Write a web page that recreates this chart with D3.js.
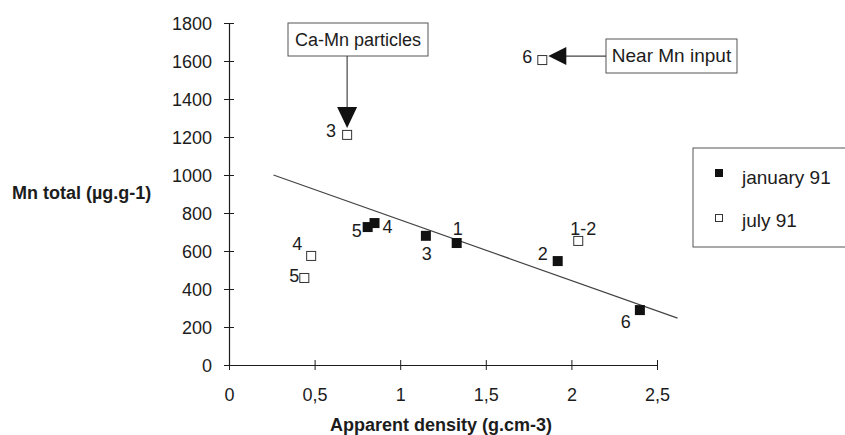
<!DOCTYPE html>
<html>
<head>
<meta charset="utf-8">
<script src="https://cdn.jsdelivr.net/npm/d3@7"></script>
<style>
  body { margin: 0; background: #fff; }
  svg { font-family: "Liberation Sans", Arial, sans-serif; }
</style>
</head>
<body>
<svg id="chart" width="845" height="435"></svg>
<script>
(function () {
  "use strict";

  // ---- data ----
  const xTicks = [0, 0.5, 1, 1.5, 2, 2.5];
  const yTicks = [0, 200, 400, 600, 800, 1000, 1200, 1400, 1600, 1800];

  const janLabels = ["5", "4", "3", "1", "2", "6"];
  const janDensity = [0.81, 0.85, 1.15, 1.33, 1.92, 2.40];
  const janMn = [726, 747, 680, 642, 547, 289];

  const julLabels = ["3", "4", "5", "1-2", "6"];
  const julDensity = [0.69, 0.48, 0.44, 2.04, 1.83];
  const julMn = [1211, 574, 458, 653, 1605];

  const trendX = [0.26, 2.62];
  const trendY = [1000, 247];

  // label offsets (px) for each point: [dx, dy, anchor]
  const janLabelPos = [[-6, 10, "end"], [8, 10, "start"], [1, 24, "middle"], [1, -8, "middle"], [-10, -1, "end"], [-9, 18, "end"]];
  const julLabelPos = [[-11, 2, "end"], [-9, -6, "end"], [-5, 4, "end"], [5, -6, "middle"], [-10, 3, "end"]];

  const FS = 18;
  const ink = "#1c1c1c";

  const svg = d3.select("#chart");
  const x = d3.scaleLinear().domain([0, 2.5]).range([229, 657]);
  const y = d3.scaleLinear().domain([0, 1800]).range([365, 23]);

  // axes
  const yAxis = svg.append("g").attr("transform", `translate(${x(0)},0)`)
    .call(d3.axisLeft(y).tickValues(yTicks).tickSize(0).tickPadding(17).tickFormat(d3.format("d")));
  yAxis.select(".domain").attr("stroke", ink).attr("stroke-width", 1.2);
  yAxis.selectAll(".tick text").attr("font-size", FS).attr("fill", ink).attr("dy", "0.36em");
  yAxis.selectAll(".tick").append("line").attr("x1", -5).attr("x2", 5).attr("stroke", ink);

  const xAxis = svg.append("g").attr("transform", `translate(0,${y(0)})`)
    .call(d3.axisBottom(x).tickValues(xTicks).tickSize(0).tickPadding(23)
      .tickFormat((d) => String(d).replace(".", ",")));
  xAxis.select(".domain").attr("stroke", ink).attr("stroke-width", 1.2);
  xAxis.selectAll(".tick text").attr("font-size", FS).attr("fill", ink);
  xAxis.selectAll(".tick").append("line").attr("y1", -5).attr("y2", 5).attr("stroke", ink);

  svg.append("text").attr("x", 441).attr("y", 431).attr("text-anchor", "middle")
    .attr("font-size", FS).attr("font-weight", "bold").attr("fill", ink)
    .text("Apparent density (g.cm-3)");
  svg.append("text").attr("x", 12).attr("y", 199)
    .attr("font-size", FS).attr("font-weight", "bold").attr("fill", ink)
    .text("Mn total (µg.g-1)");

  // trend line
  svg.append("line")
    .attr("x1", x(trendX[0])).attr("y1", y(trendY[0]))
    .attr("x2", x(trendX[1])).attr("y2", y(trendY[1]))
    .attr("stroke", "#444").attr("stroke-width", 1.2);

  const jan = janDensity.map((d, i) => ({ x: d, y: janMn[i], label: janLabels[i], pos: janLabelPos[i] }));
  const jul = julDensity.map((d, i) => ({ x: d, y: julMn[i], label: julLabels[i], pos: julLabelPos[i] }));

  svg.append("g").selectAll("rect").data(jan).join("rect")
    .attr("x", (d) => x(d.x) - 5).attr("y", (d) => y(d.y) - 5)
    .attr("width", 10).attr("height", 10).attr("fill", "#111");
  svg.append("g").selectAll("rect").data(jul).join("rect")
    .attr("x", (d) => x(d.x) - 4.5).attr("y", (d) => y(d.y) - 4.5)
    .attr("width", 9).attr("height", 9).attr("fill", "#fff").attr("stroke", "#333").attr("stroke-width", 1);

  svg.append("g").selectAll("text").data(jan.concat(jul)).join("text")
    .attr("x", (d) => x(d.x) + d.pos[0]).attr("y", (d) => y(d.y) + d.pos[1])
    .attr("text-anchor", (d) => d.pos[2])
    .attr("font-size", FS).attr("fill", ink)
    .text((d) => d.label);

  // annotation: Ca-Mn particles
  const caX = x(julDensity[0]);
  svg.append("rect").attr("x", 288).attr("y", 23).attr("width", 140).attr("height", 33)
    .attr("fill", "#fff").attr("stroke", "#555");
  svg.append("text").attr("x", 358).attr("y", 46).attr("text-anchor", "middle")
    .attr("font-size", FS).attr("fill", ink).text("Ca-Mn particles");
  svg.append("line").attr("x1", caX).attr("x2", caX).attr("y1", 56).attr("y2", 110)
    .attr("stroke", "#444").attr("stroke-width", 1.2);
  svg.append("path")
    .attr("d", `M${caX - 10},107 L${caX + 10},107 L${caX},${y(julMn[0]) - 7} Z`)
    .attr("fill", "#111");

  // annotation: Near Mn input
  const nX = x(julDensity[4]);
  const nY = y(julMn[4]);
  svg.append("rect").attr("x", 606).attr("y", 39).attr("width", 131).attr("height", 34)
    .attr("fill", "#fff").attr("stroke", "#555");
  svg.append("text").attr("x", 671.5).attr("y", 62).attr("text-anchor", "middle")
    .attr("font-size", FS + 1).attr("fill", ink).text("Near Mn input");
  svg.append("line").attr("x1", 606).attr("x2", nX + 20).attr("y1", nY - 4).attr("y2", nY - 4)
    .attr("stroke", "#444").attr("stroke-width", 1.2);
  svg.append("path")
    .attr("d", `M${nX + 24},${nY - 13} L${nX + 24},${nY + 5} L${nX + 6},${nY - 4} Z`)
    .attr("fill", "#111");

  // legend (box runs off the right edge like the original)
  const lg = svg.append("g");
  lg.append("rect").attr("x", 693).attr("y", 148).attr("width", 170).attr("height", 99)
    .attr("fill", "#fff").attr("stroke", "#555");
  lg.append("rect").attr("x", 715).attr("y", 169).attr("width", 8).attr("height", 8).attr("fill", "#111");
  lg.append("rect").attr("x", 715.5).attr("y", 214.5).attr("width", 7).attr("height", 7)
    .attr("fill", "#fff").attr("stroke", "#333");
  lg.append("text").attr("x", 742).attr("y", 184).attr("font-size", FS + 1).attr("fill", ink).text("january 91");
  lg.append("text").attr("x", 742).attr("y", 227).attr("font-size", FS + 1).attr("fill", ink).text("july 91");
})();
</script>
</body>
</html>
